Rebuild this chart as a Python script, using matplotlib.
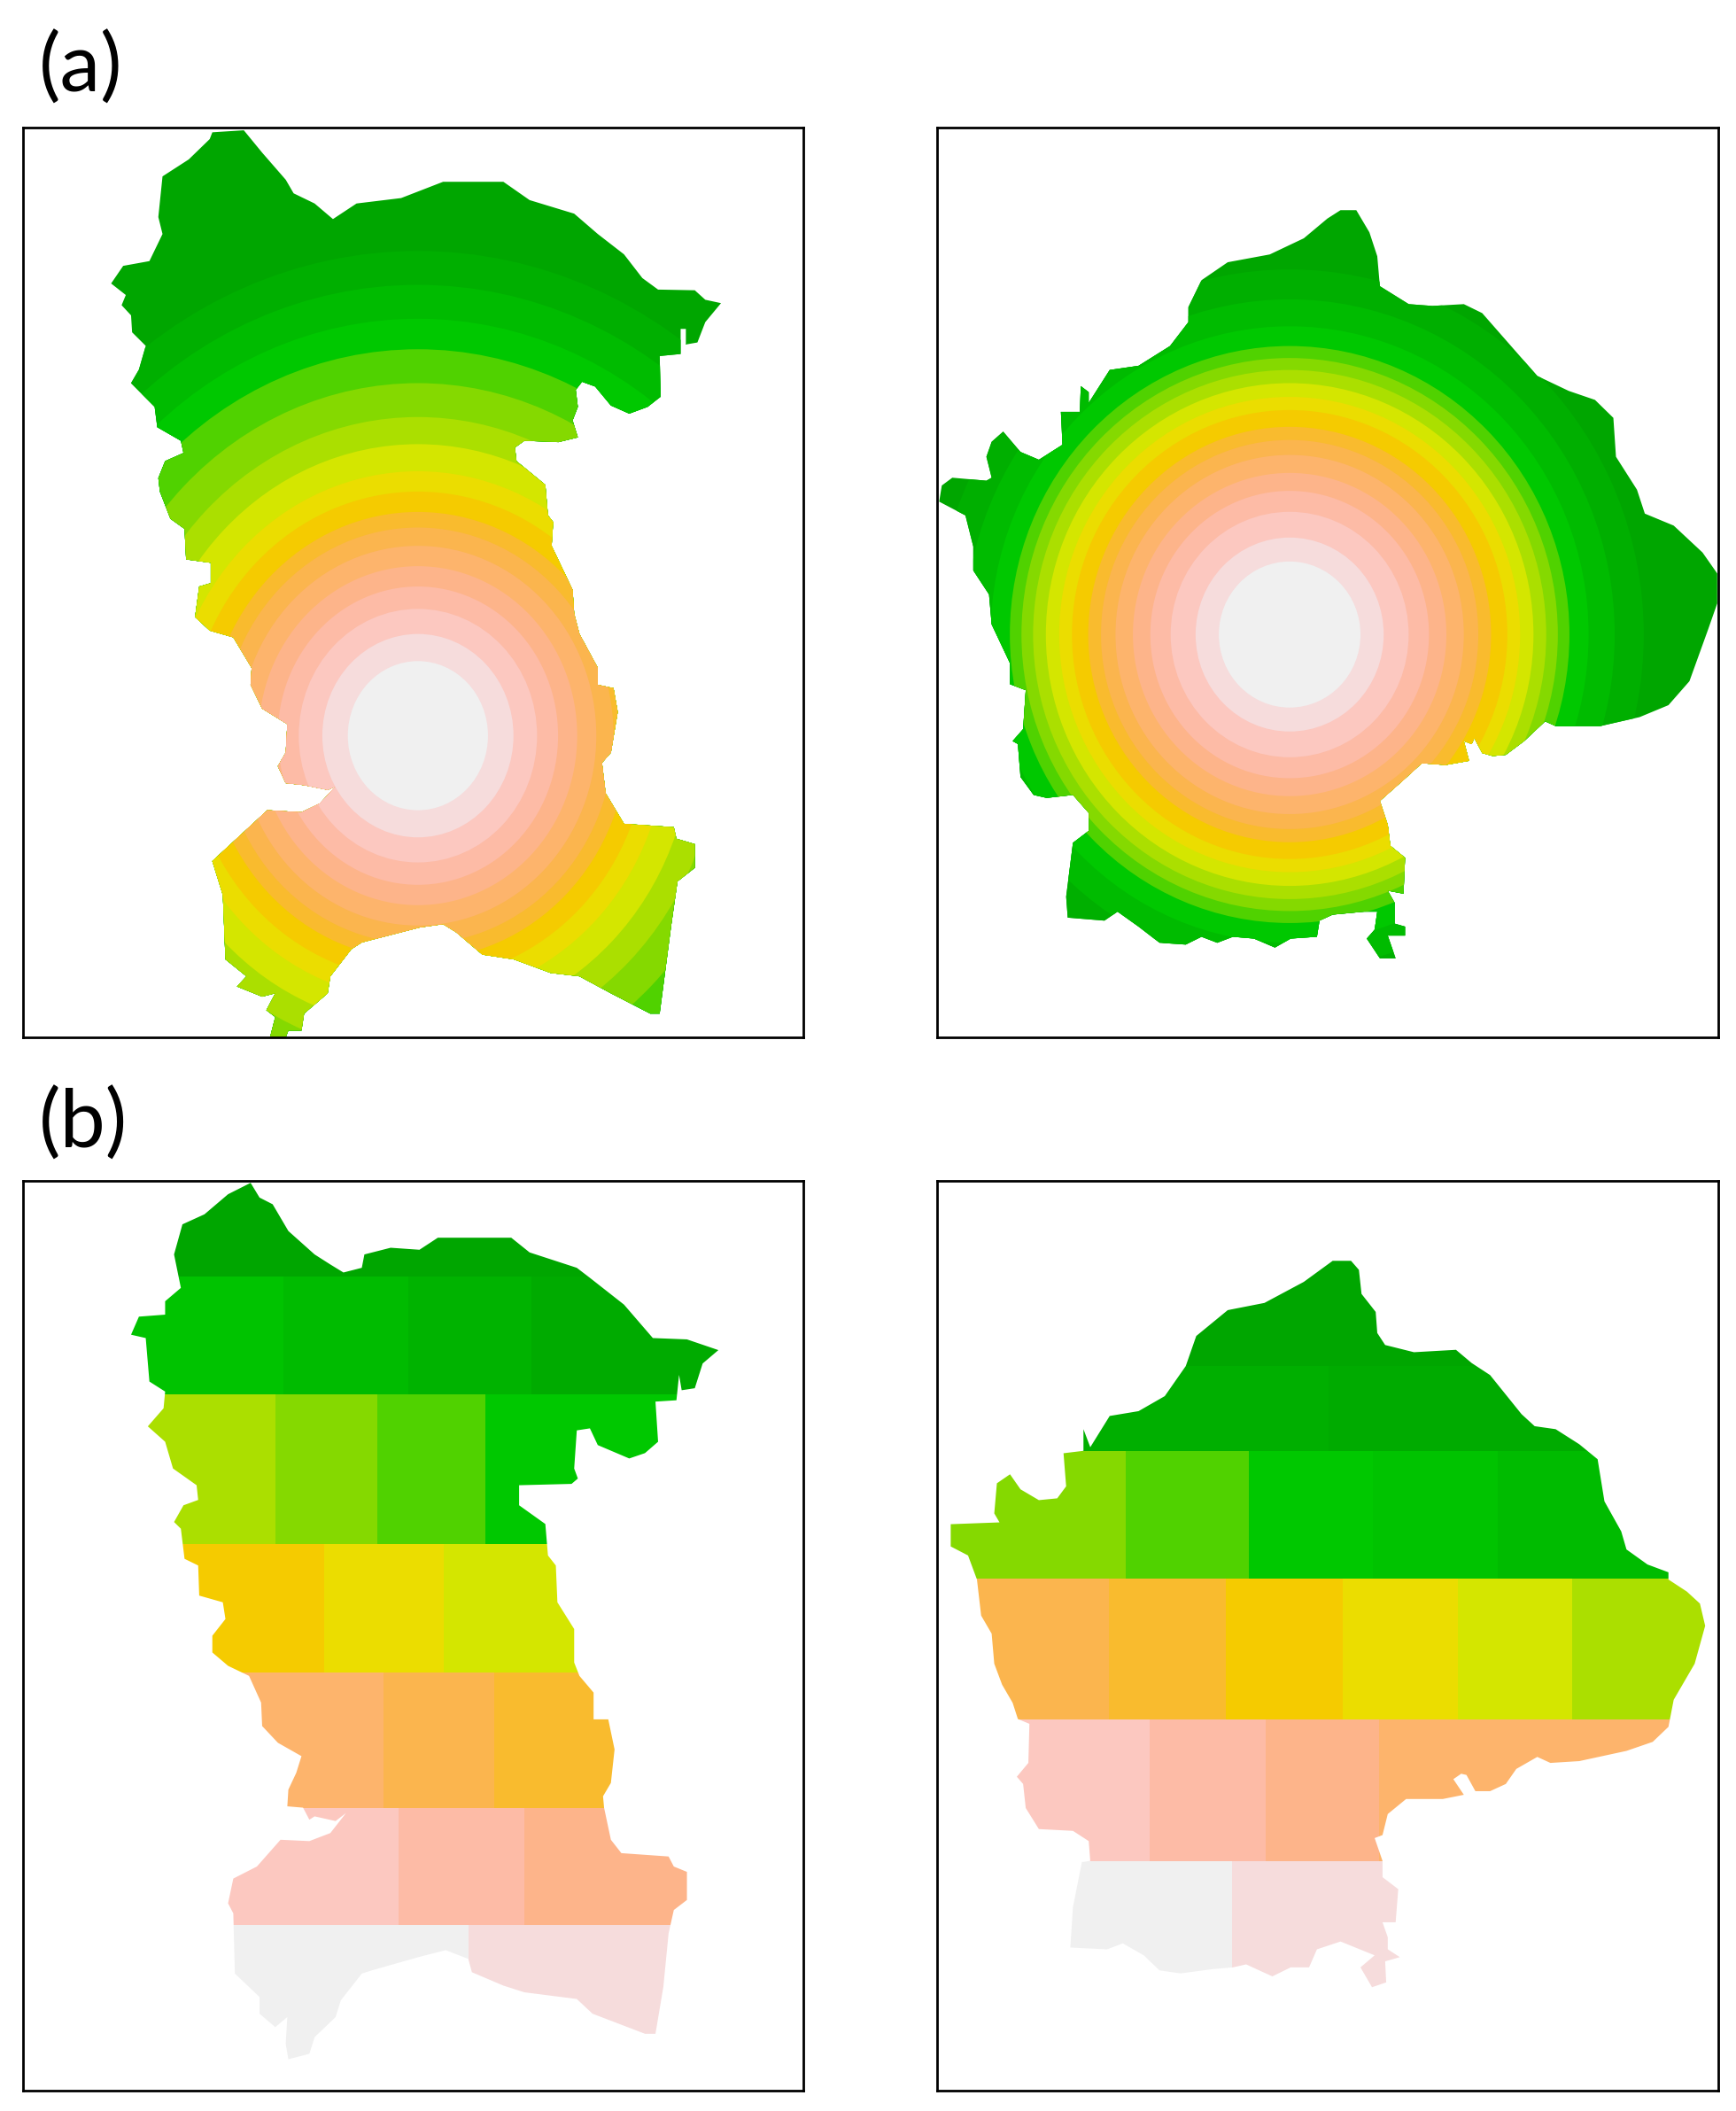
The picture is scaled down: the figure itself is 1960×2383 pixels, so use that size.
"""Distance bands (a) and block zones (b) over two catchment outlines."""
import numpy as np
import matplotlib
matplotlib.use('Agg')
import matplotlib.pyplot as plt
from matplotlib.patches import Ellipse, Polygon

plt.rcParams.update({
    'font.family': ['Lato', 'DejaVu Sans'],
    'axes.linewidth': 2.0,
})

# Colour ramp, index 0 = centre / lowest, 17 = outermost; 18-20 are in-between greens for blocks
palette = ['#F0F0F0', '#F6DCDC', '#FCC8C0', '#FDBBA6', '#FDB48A', '#FDB46C', '#FBB54E',
           '#F9BB2E', '#F5CB00', '#EBDD00', '#D4E600', '#ABDF00', '#85D900', '#50D200',
           '#00C800', '#00BB00', '#00AF00', '#00A600', '#00C300', '#00B300', '#00AB00']

# Outlines (map units of each panel)
outline_a1 = [(405,195),(465,192),(500,225),(545,265),(560,285),(600,300),(635,323),(680,300),(765,292),(845,268),(960,268),(1010,295),(1095,315),(1140,345),(1190,375),(1225,410),(1255,427),(1325,428),(1345,442),(1375,447),(1345,475),(1330,505),(1308,508),(1308,485),(1298,485),(1298,522),(1258,525),(1260,585),(1235,600),(1200,610),(1165,598),(1135,570),(1110,563),(1098,575),(1102,600),(1092,620),(1102,645),(1065,652),(1000,650),(982,660),(985,680),(1040,715),(1045,760),(1055,770),(1052,805),(1092,870),(1095,905),(1105,935),(1140,985),(1140,1010),(1170,1015),(1178,1050),(1165,1110),(1148,1125),(1155,1170),(1190,1215),(1285,1220),(1290,1237),(1325,1245),(1325,1280),(1292,1300),(1280,1365),(1258,1495),(1240,1495),(1165,1465),(1105,1440),(1050,1435),(980,1415),(920,1408),(870,1375),(845,1363),(800,1368),(690,1390),(670,1400),(630,1440),(625,1465),(580,1495),(575,1520),(550,1520),(545,1530),(515,1530),(525,1500),(508,1490),(525,1465),(500,1470),(452,1455),(470,1440),(430,1415),(425,1320),(405,1270),(440,1245),(510,1195),(575,1198),(610,1185),(640,1160),(625,1165),(580,1158),(545,1155),(530,1130),(545,1110),(548,1068),(500,1045),(478,1010),(480,985),(445,940),(400,930),(372,910),(380,865),(402,860),(402,830),(355,825),(352,780),(325,765),(305,725),(302,705),(315,680),(350,668),(345,650),(300,630),(295,600),(250,565),(265,545),(278,510),(252,490),(250,465),(232,450),(240,435),(212,418),(235,392),(285,385),(310,345),(302,320),(310,260),(360,235),(400,205)]

outline_a2 = [(815,158),(845,158),(870,195),(885,235),(890,285),(945,315),(990,318),(1050,315),(1085,330),(1130,375),(1190,435),(1250,460),(1300,475),(1335,505),(1340,570),(1380,625),(1395,665),(1450,685),(1505,730),(1533,765),(1533,815),(1515,860),(1480,945),(1440,985),(1385,1005),(1310,1020),(1225,1020),(1205,1012),(1165,1045),(1130,1068),(1105,1070),(1085,1065),(1070,1040),(1065,1050),(1050,1045),(1060,1078),(1015,1085),(970,1082),(935,1110),(890,1145),(905,1185),(910,1220),(938,1240),(935,1300),(905,1295),(918,1315),(918,1350),(938,1355),(938,1370),(905,1370),(920,1408),(890,1408),(865,1375),(880,1360),(885,1330),(860,1330),(800,1335),(775,1345),(770,1372),(720,1375),(690,1390),(650,1375),(610,1372),(580,1382),(550,1372),(520,1385),(470,1382),(430,1355),(390,1330),(365,1345),(295,1340),(292,1305),(305,1215),(335,1195),(335,1165),(305,1135),(255,1140),(230,1135),(205,1105),(200,1050),(190,1045),(210,1025),(215,960),(185,950),(185,915),(150,850),(145,800),(115,760),(115,720),(100,668),(50,645),(55,618),(75,605),(140,610),(150,605),(140,570),(150,545),(172,528),(205,562),(240,575),(285,550),(282,495),(318,495),(320,452),(335,462),(335,480),(375,425),(430,418),(490,385),(525,345),(525,320),(550,275),(600,245),(680,232),(745,205),(790,172)]

outline_b1 = [(435,195),(478,178),(495,200),(520,210),(550,250),(600,285),(630,300),(655,312),(690,305),(695,285),(745,275),(800,278),(835,260),(975,260),(1010,282),(1100,305),(1125,320),(1190,360),(1245,410),(1310,412),(1370,428),(1340,448),(1325,485),(1300,488),(1295,465),(1290,503),(1250,505),(1255,565),(1230,582),(1200,590),(1140,570),(1125,545),(1100,548),(1095,605),(1102,620),(1090,628),(990,630),(990,660),(1040,688),(1045,735),(1060,750),(1063,805),(1095,845),(1095,895),(1105,915),(1132,940),(1132,980),(1160,980),(1172,1025),(1165,1075),(1150,1095),(1152,1112),(1165,1160),(1185,1180),(1275,1185),(1285,1200),(1310,1208),(1310,1250),(1285,1265),(1275,1300),(1265,1380),(1250,1450),(1230,1450),(1130,1420),(1100,1398),(1000,1388),(960,1378),(900,1358),(893,1338),(850,1325),(800,1335),(710,1355),(690,1360),(650,1400),(640,1425),(600,1455),(590,1480),(550,1488),(545,1465),(548,1425),(525,1440),(495,1420),(495,1395),(448,1360),(445,1270),(435,1255),(445,1218),(490,1200),(535,1160),(590,1162),(630,1150),(660,1120),(640,1132),(600,1125),(590,1130),(578,1112),(548,1110),(550,1085),(565,1060),(575,1035),(530,1015),(500,990),(498,955),(475,915),(435,900),(405,880),(405,855),(430,830),(425,805),(380,795),(378,750),(352,740),(345,695),(332,685),(350,660),(378,652),(375,630),(330,605),(315,565),(282,542),(312,515),(315,490),(285,475),(278,410),(250,405),(265,378),(315,375),(315,355),(345,335),(332,285),(348,240),(390,225)]

outline_b2 = [(800,150),(835,150),(850,165),(855,205),(882,235),(885,270),(900,290),(955,302),(1035,298),(1065,320),(1100,340),(1160,405),(1185,425),(1225,430),(1270,455),(1305,480),(1318,550),(1350,600),(1360,630),(1400,655),(1440,668),(1440,680),(1475,700),(1500,720),(1510,757),(1490,820),(1450,880),(1440,925),(1410,950),(1360,965),(1270,982),(1215,985),(1190,975),(1150,995),(1130,1020),(1100,1032),(1072,1032),(1055,1005),(1045,1003),(1030,1012),(1050,1038),(1010,1045),(940,1045),(905,1070),(895,1105),(880,1110),(895,1148),(895,1175),(925,1195),(920,1250),(895,1250),(905,1275),(905,1295),(928,1308),(900,1315),(902,1350),(875,1358),(853,1325),(880,1305),(815,1282),(770,1295),(755,1325),(720,1325),(685,1340),(635,1320),(610,1325),(570,1328),(510,1335),(470,1330),(440,1305),(400,1285),(370,1295),(300,1292),(305,1225),(322,1150),(338,1148),(335,1115),(305,1098),(240,1095),(215,1060),(210,1020),(198,1008),(220,985),(222,920),(200,912),(190,885),(170,855),(155,820),(150,770),(130,740),(122,680),(105,640),(72,625),(72,588),(165,585),(155,570),(160,520),(185,505),(205,530),(240,548),(275,545),(292,525),(287,470),(325,466),(325,430),(338,460),(375,408),(430,400),(480,375),(520,325),(540,275),(600,232),(670,220),(745,185)]

# Ring centres and outer radii of each band (a)
centre_a1 = (797, 1085)
radii_a1 = [110, 150, 187, 220, 250, 280, 307, 330, 360, 390, 430, 470, 520, 570, 615, 665, 715]
centre_a2 = (718, 867)
radii_a2 = [122, 162, 205, 240, 270, 300, 325, 347, 375, 397, 420, 442, 462, 482, 515, 560, 610]

# Block zones (b): lower edge of each row, column splits, palette index per block
row_edges_b1 = [0, 318, 494, 718, 910, 1112, 1288, 1600]
col_splits_b1 = [[], [540, 778, 1014], [525, 720, 925], [618, 847], [732, 943], [760, 1000], [893]]
zones_b1 = [[17], [18, 15, 19, 20], [11, 12, 13, 14], [8, 9, 10], [5, 6, 7], [2, 3, 4], [0, 1]]

row_edges_b2 = [0, 325, 466, 678, 912, 1148, 1600]
col_splits_b2 = [[], [792], [406, 640, 876, 1114], [373, 597, 819, 1039, 1256], [451, 672, 889], [609]]
zones_b2 = [[17], [16, 20], [12, 13, 14, 18, 15], [6, 7, 8, 9, 10, 11], [2, 3, 4, 5], [0, 1]]

W, H = 1960, 2383
# Panel frames in pixels (left, right, top, bottom) and map limits of each panel
frame_a1 = (26, 907, 144, 1171)
frame_a2 = (1058, 1940, 144, 1171)
frame_b1 = (26, 907, 1333, 2360)
frame_b2 = (1058, 1940, 1333, 2360)
limits_a1 = (44, 1532, 1530, 188)
limits_a2 = (46, 1535, 1540, 20)
limits_b1 = (44, 1532, 1535, 175)
limits_b2 = (46, 1535, 1530, 17)


def make_panel(frame, limits, outline, fill):
    left, right, top, bottom = frame
    ax = fig.add_axes([left / W, 1 - bottom / H, (right - left) / W, (bottom - top) / H])
    ax.set_xlim(limits[0], limits[1])
    ax.set_ylim(limits[2], limits[3])
    ax.set_xticks([])
    ax.set_yticks([])
    shape = Polygon(outline, closed=True, facecolor=fill, edgecolor='none', zorder=1)
    ax.add_patch(shape)
    return ax, shape


def draw_rings(ax, shape, centre, radii, frame, limits, squeeze):
    # map units differ in x and y; rings in the source are a little taller than wide
    px_x = (frame[1] - frame[0]) / (limits[1] - limits[0])
    px_y = (frame[3] - frame[2]) / (limits[2] - limits[3])
    stretch = squeeze * px_y / px_x
    for i in range(len(radii) - 1, -1, -1):
        ring = Ellipse(centre, 2 * radii[i] * stretch, 2 * radii[i],
                       facecolor=palette[i], edgecolor='none', zorder=2)
        ax.add_patch(ring)
        ring.set_clip_path(shape)


def draw_blocks(ax, shape, row_edges, col_splits, zones, limits):
    for r, row in enumerate(zones):
        edges = [limits[0]] + col_splits[r] + [limits[1]]
        for c, idx in enumerate(row):
            bars = ax.bar(edges[c], row_edges[r + 1] - row_edges[r], edges[c + 1] - edges[c],
                          bottom=row_edges[r], align='edge', color=palette[idx], linewidth=0, zorder=2)
            bars[0].set_clip_path(shape)
    ax.set_xlim(limits[0], limits[1])
    ax.set_ylim(limits[2], limits[3])


fig = plt.figure(figsize=(W / 100, H / 100), dpi=100, facecolor='white')

ax, shape = make_panel(frame_a1, limits_a1, outline_a1, palette[17])
draw_rings(ax, shape, centre_a1, radii_a1, frame_a1, limits_a1, 0.94)
ax, shape = make_panel(frame_a2, limits_a2, outline_a2, palette[17])
draw_rings(ax, shape, centre_a2, radii_a2, frame_a2, limits_a2, 0.97)
ax, shape = make_panel(frame_b1, limits_b1, outline_b1, 'none')
draw_blocks(ax, shape, row_edges_b1, col_splits_b1, zones_b1, limits_b1)
ax, shape = make_panel(frame_b2, limits_b2, outline_b2, 'none')
draw_blocks(ax, shape, row_edges_b2, col_splits_b2, zones_b2, limits_b2)

fig.text(44 / W, 1 - 104 / H, '(a)', fontsize=66, color='black', va='baseline')
fig.text(44 / W, 1 - 1296 / H, '(b)', fontsize=66, color='black', va='baseline')

plt.savefig('out.png', dpi=100, facecolor='white')
print('Saved out.png')
